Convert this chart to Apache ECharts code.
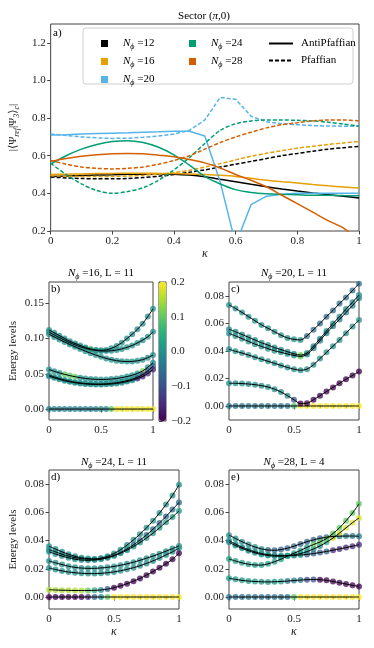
<!DOCTYPE html>
<html>
<head>
<meta charset="utf-8">
<script src="https://cdn.jsdelivr.net/npm/echarts@6/dist/echarts.min.js"></script>
<style>
html, body { margin: 0; padding: 0; background: #fff; }
#main { width: 374px; height: 648px; }
</style>
</head>
<body>
<div id="main"></div>
<script>
var kappa = [0, 0.05, 0.1, 0.15, 0.2, 0.25, 0.3, 0.35, 0.4, 0.45, 0.5, 0.55, 0.6, 0.65, 0.7, 0.75, 0.8, 0.85, 0.9, 0.95, 1];

// panel a: |<Psi_ref|Psi_3>_c|, solid = AntiPfaffian, dashed = Pfaffian
var anti12 = [0.490, 0.492, 0.495, 0.497, 0.499, 0.501, 0.502, 0.503, 0.502, 0.497, 0.488, 0.475, 0.462, 0.448, 0.435, 0.423, 0.412, 0.402, 0.393, 0.384, 0.376];
var pf12 = [0.487, 0.482, 0.479, 0.477, 0.477, 0.479, 0.484, 0.491, 0.500, 0.512, 0.525, 0.540, 0.555, 0.570, 0.585, 0.600, 0.612, 0.624, 0.635, 0.643, 0.650];
var anti16 = [0.500, 0.502, 0.503, 0.505, 0.506, 0.507, 0.507, 0.506, 0.505, 0.503, 0.500, 0.496, 0.490, 0.480, 0.470, 0.462, 0.455, 0.447, 0.440, 0.434, 0.428];
var pf16 = [0.493, 0.491, 0.490, 0.489, 0.490, 0.492, 0.496, 0.502, 0.510, 0.523, 0.540, 0.558, 0.578, 0.597, 0.613, 0.627, 0.640, 0.650, 0.660, 0.668, 0.675];
var anti20 = [0.710, 0.712, 0.715, 0.718, 0.720, 0.722, 0.725, 0.727, 0.730, 0.730, 0.705, 0.460, 0.130, 0.340, 0.385, 0.395, 0.400, 0.400, 0.400, 0.400, 0.400];
var pf20 = [0.715, 0.708, 0.700, 0.695, 0.692, 0.693, 0.698, 0.705, 0.715, 0.735, 0.790, 0.910, 0.900, 0.810, 0.780, 0.770, 0.765, 0.760, 0.758, 0.757, 0.757];
var anti24 = [0.555, 0.600, 0.635, 0.660, 0.675, 0.680, 0.670, 0.645, 0.605, 0.550, 0.490, 0.450, 0.420, 0.405, 0.398, 0.395, 0.393, 0.390, 0.390, 0.388, 0.387];
var pf24 = [0.560, 0.500, 0.450, 0.415, 0.400, 0.410, 0.430, 0.470, 0.525, 0.590, 0.665, 0.735, 0.770, 0.785, 0.790, 0.790, 0.788, 0.785, 0.778, 0.768, 0.758];
var anti28 = [0.570, 0.585, 0.597, 0.605, 0.610, 0.612, 0.610, 0.603, 0.595, 0.580, 0.562, 0.535, 0.500, 0.470, 0.435, 0.390, 0.345, 0.300, 0.255, 0.215, 0.150];
var pf28 = [0.575, 0.555, 0.540, 0.533, 0.530, 0.533, 0.540, 0.555, 0.575, 0.600, 0.635, 0.670, 0.700, 0.725, 0.748, 0.765, 0.775, 0.785, 0.790, 0.790, 0.785];

// panel b: N_phi = 16, L = 11 (energies, colour value)
var zero = [0, 0, 0, 0, 0, 0, 0, 0, 0, 0, 0, 0, 0, 0, 0, 0, 0, 0, 0, 0, 0];
var bE1 = [0.112, 0.108, 0.104, 0.100, 0.096, 0.093, 0.090, 0.0873, 0.0852, 0.0838, 0.0832, 0.0838, 0.086, 0.0895, 0.094, 0.100, 0.106, 0.113, 0.121, 0.131, 0.142];
var bE2 = [0.109, 0.105, 0.1012, 0.0975, 0.094, 0.091, 0.0883, 0.086, 0.0842, 0.083, 0.0823, 0.0822, 0.0826, 0.0836, 0.0852, 0.0874, 0.0902, 0.0936, 0.0976, 0.1024, 0.1095];
var bE3 = [0.106, 0.1022, 0.0985, 0.095, 0.0915, 0.0882, 0.085, 0.082, 0.0792, 0.0765, 0.074, 0.0718, 0.070, 0.0686, 0.0677, 0.0673, 0.0675, 0.0684, 0.070, 0.0728, 0.0765];
var bE4 = [0.056, 0.0535, 0.0512, 0.0492, 0.0474, 0.0458, 0.0445, 0.0434, 0.0426, 0.0421, 0.0419, 0.042, 0.0425, 0.0433, 0.0445, 0.046, 0.0479, 0.0505, 0.054, 0.0592, 0.0655];
var bE5 = [0.048, 0.0455, 0.0432, 0.0412, 0.0395, 0.0381, 0.037, 0.0362, 0.0357, 0.0355, 0.0355, 0.0358, 0.0364, 0.0373, 0.0386, 0.0402, 0.0423, 0.0449, 0.0488, 0.0541, 0.0605];
var bE6 = [0.0465, 0.0442, 0.0421, 0.0402, 0.0386, 0.0373, 0.0363, 0.0356, 0.0351, 0.0348, 0.0348, 0.035, 0.0355, 0.0363, 0.0374, 0.0389, 0.0408, 0.0432, 0.0462, 0.0505, 0.056];
var bC0 = [-0.03, -0.03, -0.03, -0.03, -0.03, -0.03, -0.03, -0.03, -0.03, -0.03, -0.02, -0.02, 0.1, 0.19, 0.19, 0.19, 0.19, 0.19, 0.19, 0.19, 0.19];
var bC1 = [0, 0, 0, 0, 0, 0, 0, 0, 0.12, 0, 0, 0, 0, 0, 0, 0, 0, 0, 0, 0, 0];
var bC4 = [0, 0, 0, 0.1, 0.1, 0.1, 0, 0, 0, 0, 0, 0, 0, 0, 0, 0, 0, 0, 0.12, 0, 0];
var bC5 = [0, 0, 0, 0, 0, 0, 0, 0, 0, 0, 0, 0, 0, 0, 0, 0, 0, 0, -0.08, -0.08, -0.08];
var bC6 = [0, 0, 0, 0, 0, 0, 0, 0, 0, 0, 0, 0, 0, 0, 0, 0, 0, -0.15, -0.15, -0.15, -0.15];

// panel c: N_phi = 20, L = 11
var cE1 = [0.0735, 0.071, 0.068, 0.065, 0.062, 0.059, 0.0565, 0.054, 0.0515, 0.0495, 0.0485, 0.048, 0.051, 0.0555, 0.060, 0.065, 0.0695, 0.0745, 0.079, 0.084, 0.089];
var cE2 = [0.0558, 0.054, 0.052, 0.050, 0.048, 0.046, 0.0443, 0.0425, 0.041, 0.0395, 0.038, 0.037, 0.0385, 0.0435, 0.049, 0.0545, 0.060, 0.065, 0.0705, 0.0755, 0.0807];
var cE3 = [0.0528, 0.051, 0.049, 0.047, 0.045, 0.0433, 0.0417, 0.0402, 0.039, 0.0378, 0.0368, 0.036, 0.0375, 0.042, 0.0475, 0.053, 0.058, 0.063, 0.068, 0.073, 0.0783];
var cE4 = [0.0412, 0.0398, 0.0385, 0.037, 0.0355, 0.034, 0.0325, 0.031, 0.0295, 0.028, 0.0268, 0.026, 0.0268, 0.030, 0.0345, 0.039, 0.0435, 0.048, 0.053, 0.0578, 0.0625];
var cE5 = [0.0165, 0.0165, 0.0163, 0.016, 0.0155, 0.0148, 0.0138, 0.0122, 0.0102, 0.0075, 0.0045, 0.0018, 0.002, 0.0045, 0.0075, 0.0105, 0.0135, 0.0165, 0.0195, 0.0222, 0.025];
var cC0 = [-0.04, -0.04, -0.04, -0.04, -0.04, -0.04, -0.04, -0.04, -0.04, -0.04, 0.08, 0.2, 0.2, 0.2, 0.2, 0.2, 0.2, 0.2, 0.2, 0.2, 0.2];
var cC1 = [0, 0, 0, 0, 0, 0, 0, 0, 0, 0, 0, 0, -0.06, -0.06, -0.06, -0.06, -0.06, -0.06, -0.06, -0.06, -0.06];
var cC2 = [0, 0, 0, 0, 0, 0, 0, 0, 0, 0, 0, 0.12, -0.01, -0.01, -0.01, -0.01, -0.01, -0.01, -0.01, -0.01, -0.01];
var cC3 = [0, 0, 0, 0, 0, 0, 0, 0, 0, 0, 0, 0.1, -0.02, -0.02, -0.02, -0.02, -0.02, -0.02, -0.02, -0.02, -0.02];
var cC5 = [0, 0, 0, 0, 0, 0, 0, 0, 0, 0, -0.1, -0.2, -0.2, -0.2, -0.2, -0.2, -0.2, -0.2, -0.2, -0.2, -0.2];

// panel d: N_phi = 24, L = 11
var dE1 = [0.036, 0.034, 0.032, 0.0303, 0.0288, 0.0278, 0.0272, 0.027, 0.0275, 0.0288, 0.0308, 0.0335, 0.0368, 0.0405, 0.0445, 0.049, 0.054, 0.0595, 0.0655, 0.072, 0.0795];
var dE2 = [0.0335, 0.032, 0.0303, 0.029, 0.0279, 0.0272, 0.0268, 0.0268, 0.0272, 0.028, 0.0295, 0.0315, 0.034, 0.037, 0.0403, 0.044, 0.048, 0.0525, 0.057, 0.062, 0.067];
var dE3 = [0.032, 0.0305, 0.029, 0.0278, 0.0268, 0.0262, 0.026, 0.0262, 0.0268, 0.0278, 0.0292, 0.031, 0.0332, 0.0358, 0.0386, 0.0418, 0.0452, 0.049, 0.053, 0.0567, 0.061];
var dE4 = [0.0255, 0.0242, 0.023, 0.0218, 0.021, 0.0205, 0.0203, 0.0203, 0.0206, 0.021, 0.0217, 0.0225, 0.0235, 0.0247, 0.026, 0.0275, 0.029, 0.0307, 0.0325, 0.0343, 0.0362];
var dE5 = [0.0205, 0.0195, 0.0185, 0.0177, 0.0172, 0.0168, 0.0166, 0.0166, 0.0168, 0.0172, 0.0178, 0.0186, 0.0196, 0.0208, 0.0222, 0.0238, 0.0256, 0.0276, 0.0298, 0.032, 0.0345];
var dE6 = [0.0052, 0.005, 0.0048, 0.0047, 0.0046, 0.0046, 0.0046, 0.0047, 0.005, 0.0056, 0.0066, 0.0079, 0.0094, 0.0112, 0.0132, 0.0155, 0.018, 0.0207, 0.0236, 0.0268, 0.031];
var dC0 = [-0.2, -0.2, -0.2, -0.2, -0.2, -0.2, -0.15, -0.08, 0, 0.1, 0.2, 0.2, 0.2, 0.2, 0.2, 0.2, 0.2, 0.2, 0.2, 0.2, 0.2];
var dC2 = [0, 0, 0, 0, 0, 0, 0, 0, 0, 0, 0, 0, 0, -0.07, -0.07, -0.07, -0.07, -0.07, -0.07, -0.07, -0.07];
var dC3 = [0, 0, 0, 0, 0, 0, 0, 0, 0, 0, 0, 0, 0, 0.02, 0.02, 0.02, 0.02, 0.02, 0.02, 0.02, 0.02];
var dC6 = [0.15, 0.15, 0.15, 0.15, 0.15, 0.15, 0.1, 0.05, 0, -0.08, -0.2, -0.2, -0.2, -0.2, -0.2, -0.2, -0.2, -0.2, -0.2, -0.2, -0.2];

// panel e: N_phi = 28, L = 4
var eE1 = [0.0438, 0.0415, 0.0392, 0.0372, 0.0354, 0.0341, 0.0333, 0.0331, 0.0336, 0.0346, 0.036, 0.0376, 0.0392, 0.0405, 0.0416, 0.0424, 0.0429, 0.0431, 0.0432, 0.0432, 0.043];
var eE2 = [0.040, 0.0375, 0.0353, 0.0335, 0.032, 0.0308, 0.030, 0.0295, 0.0293, 0.0293, 0.0295, 0.0298, 0.0302, 0.0308, 0.0315, 0.0323, 0.0332, 0.0341, 0.035, 0.036, 0.037];
var eE3 = [0.0388, 0.0365, 0.0345, 0.0328, 0.0313, 0.0302, 0.0294, 0.029, 0.0289, 0.0292, 0.0298, 0.0308, 0.0322, 0.034, 0.0362, 0.0388, 0.0418, 0.0453, 0.049, 0.0527, 0.056];
var eE4 = [0.027, 0.0255, 0.0242, 0.0232, 0.0227, 0.0226, 0.0235, 0.025, 0.0268, 0.029, 0.031, 0.033, 0.0352, 0.0372, 0.039, 0.0415, 0.045, 0.049, 0.054, 0.0595, 0.066];
var eE5 = [0.0133, 0.0125, 0.0118, 0.0113, 0.011, 0.0108, 0.0107, 0.0108, 0.011, 0.0113, 0.0117, 0.012, 0.0123, 0.0124, 0.0123, 0.0118, 0.011, 0.0101, 0.0092, 0.0083, 0.0075];
var eC0 = [-0.05, -0.05, -0.05, -0.05, -0.05, -0.05, -0.05, -0.05, -0.05, -0.05, 0.1, 0.2, 0.2, 0.2, 0.2, 0.2, 0.2, 0.2, 0.2, 0.2, 0.2];
var eC1 = [0, 0, 0, 0, 0, 0, -0.07, -0.07, -0.07, -0.07, -0.07, -0.07, -0.07, -0.07, -0.07, -0.07, -0.07, -0.03, -0.03, -0.03, -0.03];
var eC2 = [0, 0, 0, 0, 0, 0, 0, 0, 0, 0, 0, 0, -0.08, -0.08, -0.08, -0.08, -0.15, -0.15, -0.15, -0.15, -0.15];
var eC3 = [0, 0, 0, 0, 0, 0, 0, 0, 0, 0, 0, 0, 0, 0, 0, 0.05, 0.18, 0.18, 0.18, 0.18, 0.18];
var eC4 = [0.03, 0.03, 0.03, 0.03, 0.03, 0.03, 0.03, 0.03, 0.03, 0.03, 0.03, 0.03, 0.03, 0.1, 0.1, 0.1, 0.1, 0.1, 0.1, 0.1, 0.1];
var eC5 = [0.02, 0.02, 0.02, 0.02, 0.02, 0.02, 0.02, 0.02, 0.02, -0.04, -0.04, -0.04, -0.1, -0.1, -0.2, -0.2, -0.2, -0.2, -0.2, -0.2, -0.2];

var viridis = ['#440154', '#482878', '#3e4989', '#31688e', '#26828e', '#1f9e89', '#35b779', '#6ece58', '#b5de2b', '#fde725'];
var FONT = "'Liberation Serif', 'DejaVu Serif', serif";
var INK = '#222';
var SUB = { fontSize: 8, fontStyle: 'italic', fontFamily: FONT, padding: [7, 0, 0, 0] };
var ITAL = { fontStyle: 'italic', fontFamily: FONT, fontSize: 11 };

function pairs(ys) {
    return kappa.map(function (k, i) { return [k, ys[i]]; });
}
function triples(ys, cs) {
    return kappa.map(function (k, i) { return [k, ys[i], cs[i]]; });
}
function num(v, d) {
    if (Math.abs(v) < 1e-9) v = 0;
    return (v < 0 ? '\u2212' : '') + Math.abs(v).toFixed(d);
}

var grids = [
    { left: 49, top: 24, width: 310, height: 207 },
    { left: 49, top: 282, width: 104, height: 138 },
    { left: 229, top: 282, width: 130, height: 138 },
    { left: 49, top: 470, width: 130, height: 139 },
    { left: 229, top: 470, width: 130, height: 139 },
    { left: 159, top: 282, width: 7, height: 139 }
].map(function (g) {
    g.show = true; g.borderColor = '#444'; g.borderWidth = 1; g.backgroundColor = 'transparent';
    return g;
});

function xAxis(idx, step, named) {
    return {
        type: 'value', gridIndex: idx, min: 0, max: 1, interval: step,
        axisLine: { show: false },
        axisTick: { length: 3.5, lineStyle: { color: '#444' } },
        minorTick: { show: step === 0.5, splitNumber: 5, length: 2, lineStyle: { color: '#444' } },
        splitLine: { show: false },
        axisLabel: {
            color: INK, fontSize: 11, fontFamily: FONT, margin: 5,
            formatter: function (v) { return v === 0 ? '0' : v === 1 ? '1' : (step === 0.5 ? '0.5' : v.toFixed(1)); }
        },
        name: named ? '\u03ba' : '', nameLocation: 'middle', nameGap: idx === 0 ? 16 : 14,
        nameTextStyle: { color: INK, fontSize: 12, fontFamily: FONT, fontStyle: 'italic' }
    };
}
function yAxis(idx, lo, hi, ticks, dec, name) {
    return {
        type: 'value', gridIndex: idx, min: lo, max: hi,
        axisLine: { show: false },
        axisTick: { length: 3.5, customValues: ticks, lineStyle: { color: '#444' } },
        splitLine: { show: false },
        axisLabel: {
            customValues: ticks, color: INK, fontSize: 11, fontFamily: FONT, margin: 5,
            formatter: function (v) { return num(v, dec); }
        },
        name: name || '', nameLocation: 'middle', nameRotate: 90, nameGap: idx === 0 ? 26 : 30,
        nameTextStyle: { color: INK, fontSize: 11, fontFamily: FONT, rich: { s: SUB } }
    };
}

var xAxes = [xAxis(0, 0.2, true), xAxis(1, 0.5, false), xAxis(2, 0.5, false), xAxis(3, 0.5, true), xAxis(4, 0.5, true),
    { type: 'value', gridIndex: 5, min: 0, max: 1, show: false }];
var yAxes = [
    yAxis(0, 0.2, 1.3, [0.2, 0.4, 0.6, 0.8, 1.0, 1.2], 1, '|\u27e8\u03a8{s|ref}|\u03a8{s|3}\u27e9{s|c}|'),
    yAxis(1, -0.0155, 0.18, [0, 0.05, 0.1, 0.15], 2, 'Energy levels'),
    yAxis(2, -0.0102, 0.0902, [0, 0.02, 0.04, 0.06, 0.08], 2),
    yAxis(3, -0.0085, 0.09, [0, 0.02, 0.04, 0.06, 0.08], 2, 'Energy levels'),
    yAxis(4, -0.0085, 0.09, [0, 0.02, 0.04, 0.06, 0.08], 2)
];
var cbar = yAxis(5, -0.2, 0.2, [-0.2, -0.1, 0, 0.1, 0.2], 1);
cbar.position = 'right';
yAxes.push(cbar);

var series = [];
var overlap = [
    { name: 'N12', color: '#000000', anti: anti12, pf: pf12 },
    { name: 'N16', color: '#E69F00', anti: anti16, pf: pf16 },
    { name: 'N20', color: '#56B4E9', anti: anti20, pf: pf20 },
    { name: 'N24', color: '#009E73', anti: anti24, pf: pf24 },
    { name: 'N28', color: '#D55E00', anti: anti28, pf: pf28 }
];
overlap.forEach(function (o) {
    var sm = o.name === 'N20' ? false : 0.3;
    series.push({ type: 'line', xAxisIndex: 0, yAxisIndex: 0, data: pairs(o.anti), showSymbol: false, symbol: 'none', smooth: sm,
        lineStyle: { color: o.color, width: 1.5 }, silent: true });
    series.push({ type: 'line', xAxisIndex: 0, yAxisIndex: 0, data: pairs(o.pf), showSymbol: false, symbol: 'none', smooth: sm,
        lineStyle: { color: o.color, width: 1.5, type: [4, 2] }, silent: true });
});
// legend-only entries
overlap.forEach(function (o) {
    series.push({ type: 'line', name: o.name, xAxisIndex: 0, yAxisIndex: 0, data: [], itemStyle: { color: o.color } });
});
series.push({ type: 'line', name: 'AntiPfaffian', xAxisIndex: 0, yAxisIndex: 0, data: [], symbol: 'none', itemStyle: { color: '#000' }, lineStyle: { color: '#000', width: 1.5 } });
series.push({ type: 'line', name: 'Pfaffian', xAxisIndex: 0, yAxisIndex: 0, data: [], symbol: 'none', itemStyle: { color: '#000' }, lineStyle: { color: '#000', width: 1.5, type: [4, 2] } });

var panels = [
    { grid: 1, levels: [zero, bE1, bE2, bE3, bE4, bE5, bE6], colors: [bC0, bC1, zero, zero, bC4, bC5, bC6] },
    { grid: 2, levels: [zero, cE1, cE2, cE3, cE4, cE5], colors: [cC0, cC1, cC2, cC3, zero, cC5] },
    { grid: 3, levels: [zero, dE1, dE2, dE3, dE4, dE5, dE6], colors: [dC0, zero, dC2, dC3, zero, zero, dC6] },
    { grid: 4, levels: [zero, eE1, eE2, eE3, eE4, eE5], colors: [eC0, eC1, eC2, eC3, eC4, eC5] }
];
var scatterIdx = [];
panels.forEach(function (p) {
    p.levels.forEach(function (lv, j) {
        scatterIdx.push(series.length);
        series.push({ type: 'scatter', xAxisIndex: p.grid, yAxisIndex: p.grid, data: triples(lv, p.colors[j]),
            symbolSize: 6, itemStyle: { opacity: 0.75 }, z: 2, silent: true });
    });
    p.levels.forEach(function (lv) {
        series.push({ type: 'line', xAxisIndex: p.grid, yAxisIndex: p.grid, data: pairs(lv), symbol: 'none', smooth: 0.3,
            lineStyle: { color: '#000', width: 1 }, z: 3, silent: true });
    });
});

var legendText = { color: '#000', fontSize: 11, fontFamily: FONT, lineHeight: 13, rich: { i: ITAL, s: SUB } };
function legendName(n) {
    if (n.charAt(0) === 'N') return '{i|N}{s|\u03d5} =' + n.slice(1);
    return n;
}

var option = {
    animation: false,
    backgroundColor: '#fff',
    grid: grids,
    xAxis: xAxes,
    yAxis: yAxes,
    visualMap: {
        type: 'continuous', min: -0.2, max: 0.2, dimension: 2, seriesIndex: scatterIdx,
        inRange: { color: viridis }, calculable: false, left: 159, top: 282, itemWidth: 7, itemHeight: 139,
        padding: 0, text: null, showLabel: false, hoverLink: false
    },
    legend: [
        { data: ['N12', 'N16', 'N20'], left: 96, top: 32, orient: 'vertical', icon: 'rect', itemWidth: 7, itemHeight: 7, itemGap: 4,
            textStyle: Object.assign({ padding: [0, 0, 0, 10] }, legendText), formatter: legendName, selectedMode: false },
        { data: ['N24', 'N28'], left: 184, top: 32, orient: 'vertical', icon: 'rect', itemWidth: 7, itemHeight: 7, itemGap: 4,
            textStyle: Object.assign({ padding: [0, 0, 0, 10] }, legendText), formatter: legendName, selectedMode: false },
        { data: ['AntiPfaffian', 'Pfaffian'], left: 263, top: 32, orient: 'vertical', itemWidth: 24, itemHeight: 7, itemGap: 4,
            itemStyle: { opacity: 0 },
            textStyle: Object.assign({ padding: [0, 0, 0, 3] }, legendText), selectedMode: false }
    ],
    graphic: [
        { type: 'rect', z: 3, shape: { x: 83, y: 28, width: 270, height: 56, r: 3 },
            style: { fill: 'rgba(255,255,255,0.8)', stroke: '#d0d0d0', lineWidth: 1 } },
        { type: 'text', x: 204, y: 16, style: { text: 'Sector ({i|\u03c0},0)', fill: '#000', fontSize: 11, fontFamily: FONT, align: 'center', verticalAlign: 'middle', rich: { i: ITAL } } },
        { type: 'text', x: 101, y: 273, style: { text: '{i|N}{s|\u03d5} =16, L = 11', fill: '#000', fontSize: 11, fontFamily: FONT, align: 'center', verticalAlign: 'middle', rich: { i: ITAL, s: SUB } } },
        { type: 'text', x: 294, y: 273, style: { text: '{i|N}{s|\u03d5} =20, L = 11', fill: '#000', fontSize: 11, fontFamily: FONT, align: 'center', verticalAlign: 'middle', rich: { i: ITAL, s: SUB } } },
        { type: 'text', x: 114, y: 462, style: { text: '{i|N}{s|\u03d5} =24, L = 11', fill: '#000', fontSize: 11, fontFamily: FONT, align: 'center', verticalAlign: 'middle', rich: { i: ITAL, s: SUB } } },
        { type: 'text', x: 294, y: 462, style: { text: '{i|N}{s|\u03d5} =28, L = 4', fill: '#000', fontSize: 11, fontFamily: FONT, align: 'center', verticalAlign: 'middle', rich: { i: ITAL, s: SUB } } },
        { type: 'text', x: 53, y: 28, style: { text: 'a)', fill: '#000', fontSize: 11, fontFamily: FONT } },
        { type: 'text', x: 51, y: 284, style: { text: 'b)', fill: '#000', fontSize: 11, fontFamily: FONT } },
        { type: 'text', x: 231, y: 284, style: { text: 'c)', fill: '#000', fontSize: 11, fontFamily: FONT } },
        { type: 'text', x: 51, y: 472, style: { text: 'd)', fill: '#000', fontSize: 11, fontFamily: FONT } },
        { type: 'text', x: 231, y: 472, style: { text: 'e)', fill: '#000', fontSize: 11, fontFamily: FONT } }
    ],
    series: series
};

var myChart = echarts.init(document.getElementById('main'));
myChart.setOption(option);
</script>
</body>
</html>
